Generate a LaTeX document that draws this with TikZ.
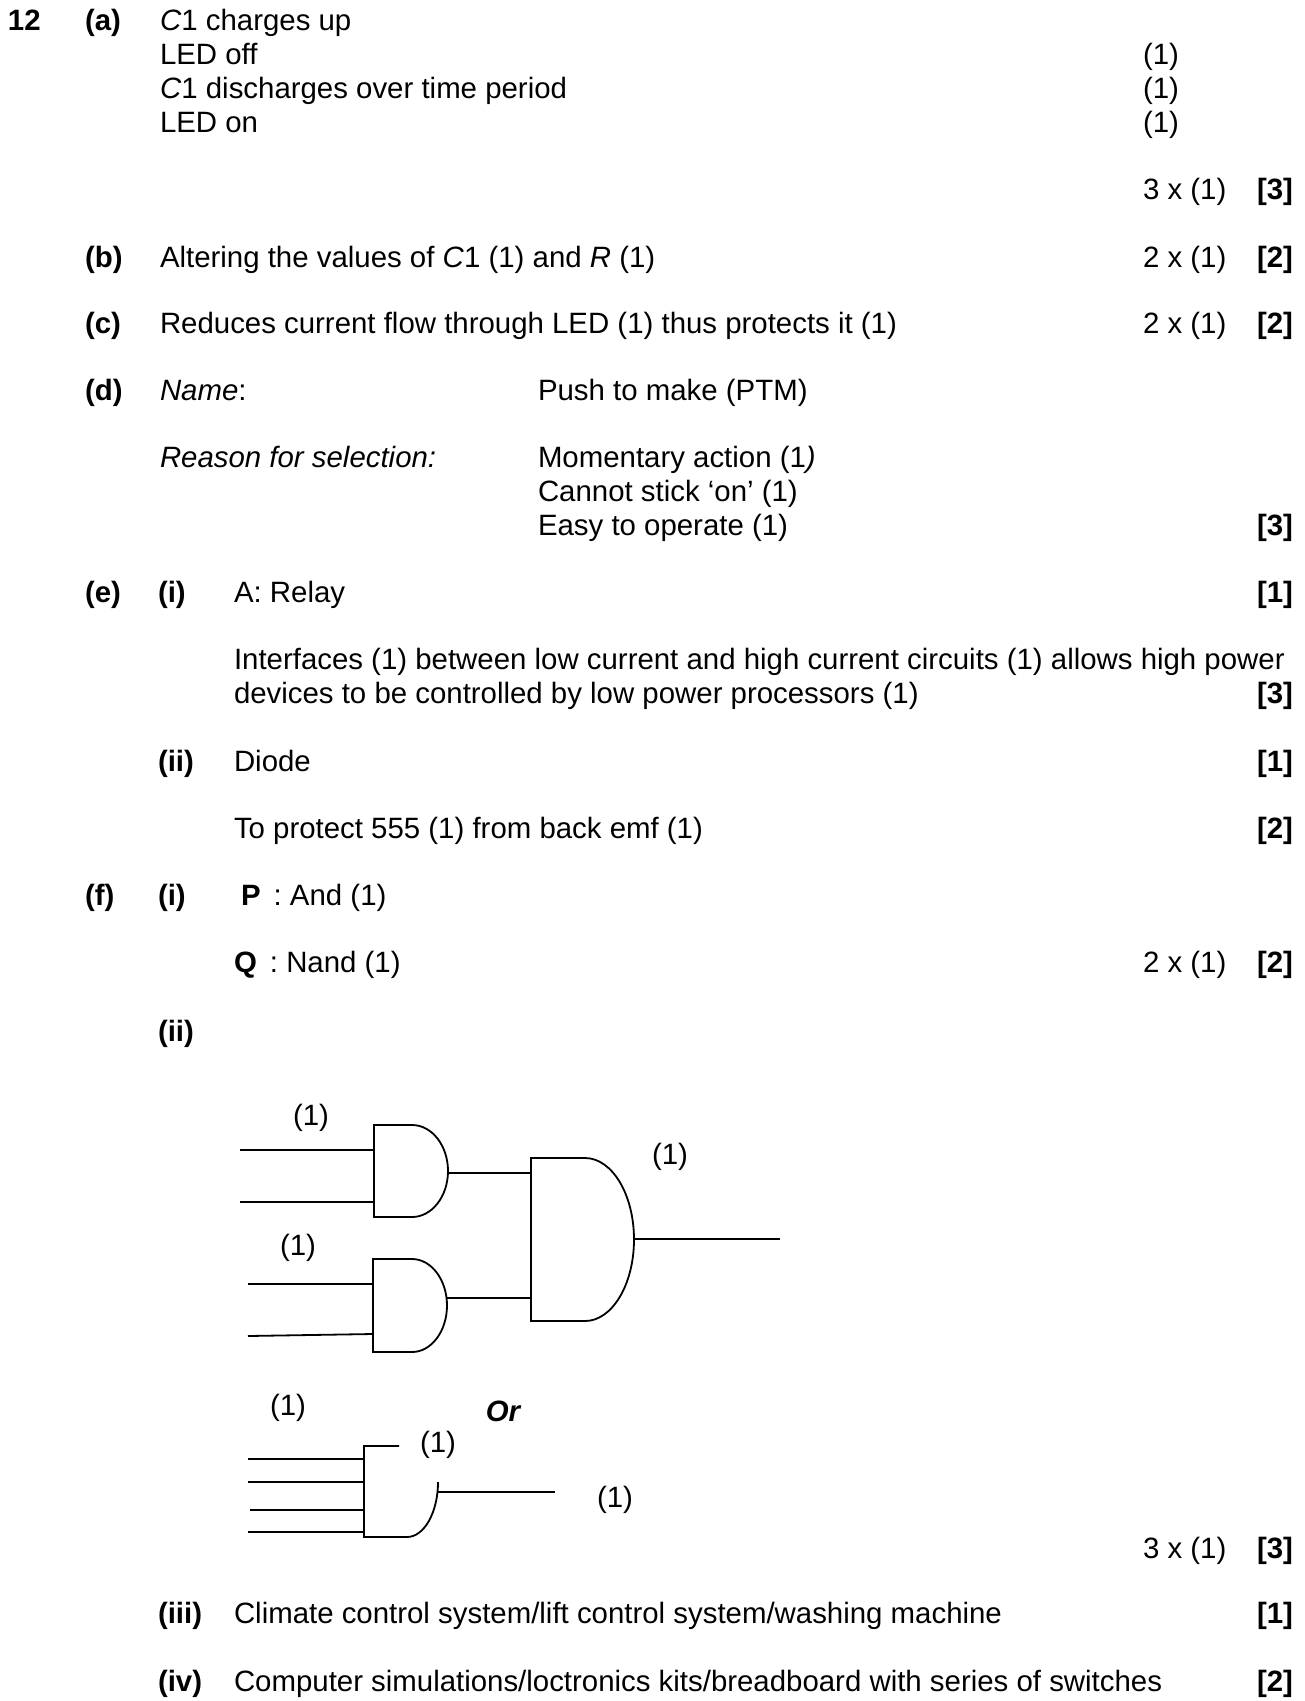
\documentclass[tikz,border=0pt]{standalone}
\usepackage{fontspec}
\setmainfont{Liberation Sans}
\usepackage{tikz}
\usetikzlibrary{calc}
\tikzstyle{answer} = [anchor=base west, inner sep=0, outer sep=0,
    font=\fontsize{29.4}{34}\selectfont]
\tikzstyle{partlbl} = [answer, font=\fontsize{29.4}{34}\selectfont\bfseries]
\tikzstyle{total} = [anchor=base east, inner sep=0, outer sep=0,
    font=\fontsize{29.4}{34}\selectfont\bfseries]
\tikzstyle{gate} = [line width=1.8, line join=miter]
\tikzstyle{wire} = [line width=1.8]

\begin{document}
\begin{tikzpicture}[x=1pt, y=-1pt]

\useasboundingbox (0,0) rectangle (1305,1701);

%%% part (a)
\node[partlbl] (q12) at (8,30) {12};
\node[partlbl] (pa) at (85,30) {(a)};
\node[answer] (a1) at (160,30) {\textit{C}1 charges up};
\node[answer] (a2) at (160,64) {LED off};
\node[answer] (a3) at (160,98) {\textit{C}1 discharges over time period};
\node[answer] (a4) at (160,132) {LED on};
\node[answer] (a2m) at (1143,64) {(1)};
\node[answer] (a3m) at (1143,98) {(1)};
\node[answer] (a4m) at (1143,132) {(1)};
\node[answer] (atally) at (1143,199) {3 x (1)};
\node[total] (atot) at (1293,199) {[3]};

%%% part (b) and (c)
\node[partlbl] (pb) at (85,267) {(b)};
\node[answer] (b1) at (160,267) {Altering the values of \textit{C}1 (1) and \textit{R} (1)};
\node[answer] (btally) at (1143,267) {2 x (1)};
\node[total] (btot) at (1293,267) {[2]};

\node[partlbl] (pc) at (85,333) {(c)};
\node[answer] (c1) at (160,333) {Reduces current flow through LED (1) thus protects it (1)};
\node[answer] (ctally) at (1143,333) {2 x (1)};
\node[total] (ctot) at (1293,333) {[2]};

%%% part (d)
\node[partlbl] (pd) at (85,400) {(d)};
\node[answer] (dname) at (160,400) {\textit{Name}:};
\node[answer] (dptm) at (538,400) {Push to make (PTM)};
\node[answer] (dreason) at (160,467) {\textit{Reason for selection:}};
\node[answer] (d1) at (538,467) {Momentary action (1\textit{)}};
\node[answer] (d2) at (538,501) {Cannot stick ‘on’ (1)};
\node[answer] (d3) at (538,535) {Easy to operate (1)};
\node[total] (dtot) at (1293,535) {[3]};

%%% part (e)
\node[partlbl] (pe) at (85,602) {(e)};
\node[partlbl] (ei) at (158,602) {(i)};
\node[answer] (e1) at (234,602) {A: Relay};
\node[total] (eitot) at (1293,602) {[1]};
\node[answer] (e2) at (234,669) {Interfaces (1) between low current and high current circuits (1) allows high power};
\node[answer] (e3) at (234,703) {devices to be controlled by low power processors (1)};
\node[total] (eitot2) at (1293,703) {[3]};

\node[partlbl] (eii) at (158,771) {(ii)};
\node[answer] (e4) at (234,771) {Diode};
\node[total] (eiitot) at (1293,771) {[1]};
\node[answer] (e5) at (234,838) {To protect 555 (1) from back emf (1)};
\node[total] (eiitot2) at (1293,838) {[2]};

%%% part (f)
\node[partlbl] (pf) at (85,905) {(f)};
\node[partlbl] (fi) at (158,905) {(i)};
\node[answer] (f1) at (241,905) {\textbf{P} \,: And (1)};
\node[answer] (f2) at (234,972) {\textbf{Q} \,: Nand (1)};
\node[answer] (ftally) at (1143,972) {2 x (1)};
\node[total] (ftot) at (1293,972) {[2]};
\node[partlbl] (fii) at (158,1041) {(ii)};

%%% three gate version
\draw[gate] (412,1125) -- (374,1125) -- (374,1217) -- (412,1217)
    arc[start angle=90, end angle=-90, x radius=36, y radius=46];
\draw[gate] (412,1259) -- (373,1259) -- (373,1352) -- (412,1352)
    arc[start angle=90, end angle=-90, x radius=35, y radius=46.5];
\draw[gate] (585,1158) -- (531,1158) -- (531,1321) -- (585,1321)
    arc[start angle=90, end angle=-90, x radius=49, y radius=81.5];

\coordinate (g1a) at (374,1150);
\coordinate (g1b) at (374,1202);
\coordinate (g1o) at (448,1173);
\coordinate (g2a) at (373,1284);
\coordinate (g2b) at (373,1334);
\coordinate (g2o) at (447,1298);
\coordinate (g3a) at (531,1173);
\coordinate (g3b) at (531,1298);
\coordinate (g3o) at (634,1239);
\coordinate (s1) at (240,1150);
\coordinate (s2) at (240,1202);
\coordinate (s3) at (248,1284);
\coordinate (s4) at (248,1336);
\coordinate (out1) at (780,1239);

\draw[wire] (s1) -- (g1a);
\draw[wire] (s2) -- (g1b);
\draw[wire] (s3) -- (g2a);
\draw[wire] (s4) -- (g2b);
\draw[wire] (g1o) -- (g3a);
\draw[wire] (g2o) -- (g3b);
\draw[wire] (g3o) -- (out1);

\node[answer, anchor=base] (m1) at (311,1125) {(1)};
\node[answer, anchor=base] (m2) at (670,1164) {(1)};
\node[answer, anchor=base] (m3) at (298,1255) {(1)};

%%% four input version
\node[answer, anchor=base] (m4) at (288,1415) {(1)};
\node[answer, anchor=base, font=\fontsize{29.4}{34}\selectfont\bfseries\itshape] (orr) at (503,1421) {Or};
\node[answer, anchor=base] (m5) at (438,1452) {(1)};
\node[answer, anchor=base] (m6) at (615,1507) {(1)};

\draw[gate] (399,1446) -- (364,1446) -- (364,1537) -- (407,1537)
    arc[start angle=90, end angle=0, x radius=31, y radius=55];

\coordinate (g4a) at (364,1459);
\coordinate (g4b) at (364,1482);
\coordinate (g4c) at (364,1510);
\coordinate (g4d) at (364,1532);
\coordinate (g4o) at (438,1492);
\coordinate (t1) at (248,1459);
\coordinate (t2) at (248,1482);
\coordinate (t3) at (250,1510);
\coordinate (t4) at (248,1532);
\coordinate (out2) at (555,1492);

\draw[wire] (t1) -- (g4a);
\draw[wire] (t2) -- (g4b);
\draw[wire] (t3) -- (g4c);
\draw[wire] (t4) -- (g4d);
\draw[wire] (g4o) -- (out2);

\node[answer] (ftally2) at (1143,1558) {3 x (1)};
\node[total] (ftot2) at (1293,1558) {[3]};

\node[partlbl] (fiii) at (158,1623) {(iii)};
\node[answer] (f3) at (234,1623) {Climate control system/lift control system/washing machine};
\node[total] (fiiitot) at (1293,1623) {[1]};

\node[partlbl] (fiv) at (158,1691) {(iv)};
\node[answer] (f4) at (234,1691) {Computer simulations/loctronics kits/breadboard with series of switches};
\node[total] (fivtot) at (1293,1691) {[2]};

\end{tikzpicture}
\end{document}
